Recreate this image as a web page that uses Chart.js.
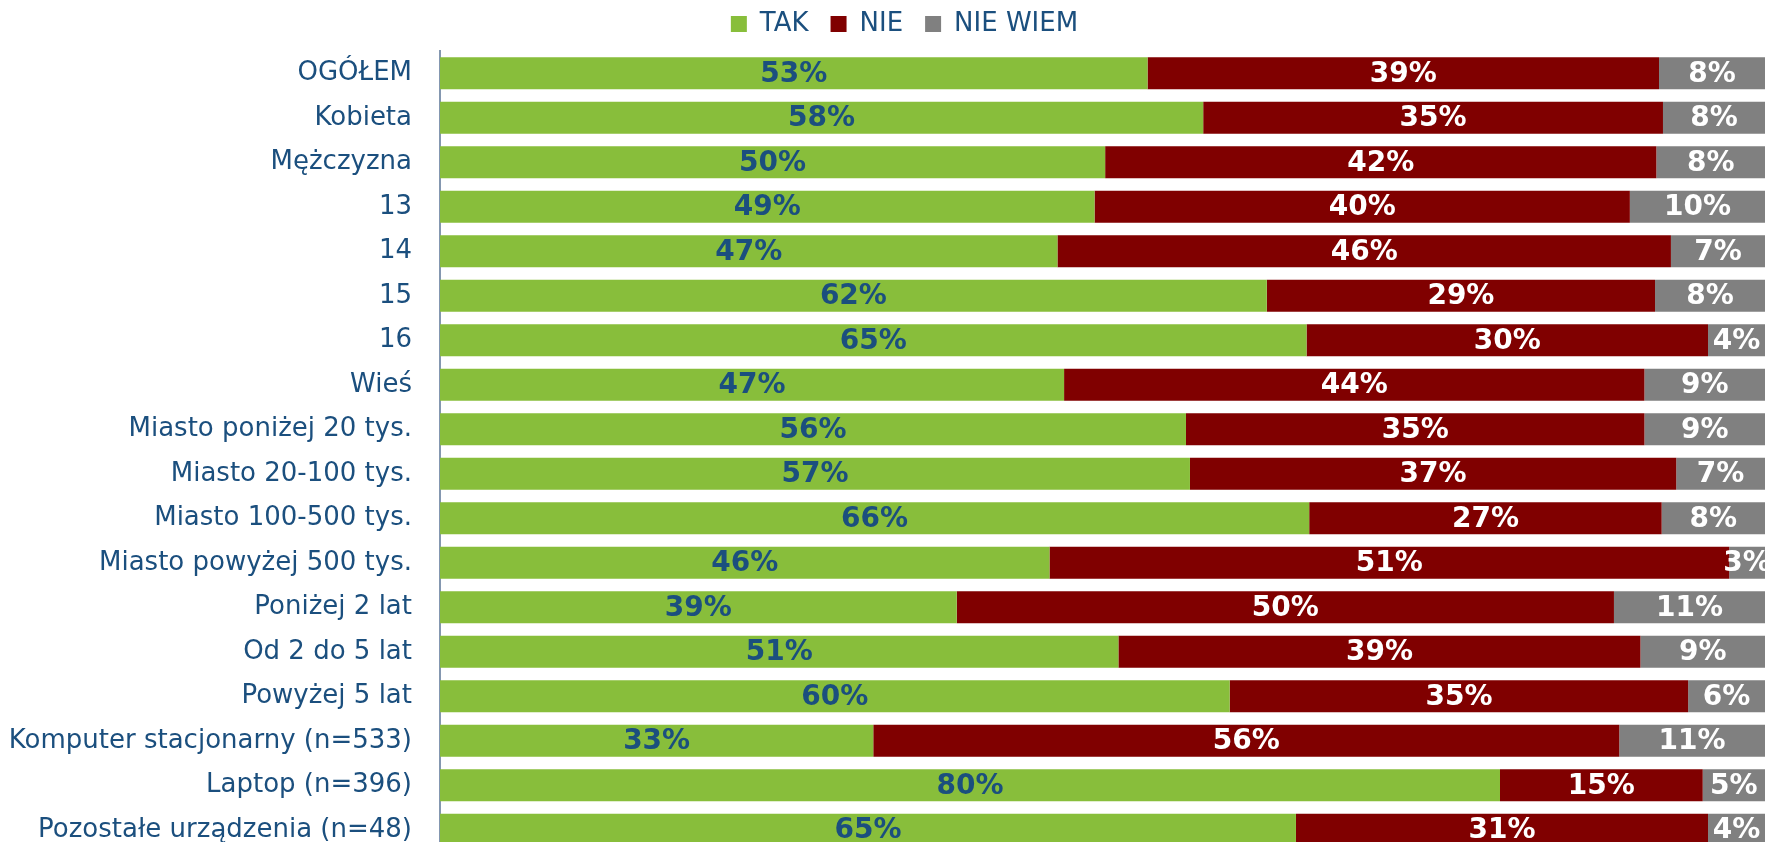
<!DOCTYPE html>
<html>
<head>
<meta charset="utf-8">
<script src="https://cdn.jsdelivr.net/npm/chart.js@4"></script>
<style>
  html, body { margin: 0; padding: 0; background: #fff; overflow: hidden; }
  canvas { display: block; }
</style>
</head>
<body>
<canvas id="chart" width="1768" height="852"></canvas>
<script>
// Categories (rows of the chart)
var categories = [
  "OGÓŁEM", "Kobieta", "Mężczyzna", "13", "14", "15", "16", "Wieś",
  "Miasto poniżej 20 tys.", "Miasto 20-100 tys.", "Miasto 100-500 tys.",
  "Miasto powyżej 500 tys.", "Poniżej 2 lat", "Od 2 do 5 lat", "Powyżej 5 lat",
  "Komputer stacjonarny (n=533)", "Laptop (n=396)", "Pozostałe urządzenia (n=48)"
];

// Series values in percent
var tak    = [53.4, 57.6, 50.2, 49.4, 46.6, 62.4, 65.4, 47.1, 56.3, 56.6, 65.6, 46.0, 39.0, 51.2, 59.6, 32.7, 80.0, 64.6];
var nie    = [38.6, 34.7, 41.6, 40.4, 46.3, 29.3, 30.3, 43.8, 34.6, 36.7, 26.6, 51.3, 49.6, 39.4, 34.6, 56.3, 15.3, 31.1];
var nieWiem = [8.0, 7.7, 8.2, 10.2, 7.1, 8.3, 4.3, 9.1, 9.1, 6.7, 7.8, 2.7, 11.4, 9.4, 5.8, 11.0, 4.7, 4.3];

var seriesNames = ["TAK", "NIE", "NIE WIEM"];
var seriesColors = ["#88BE3B", "#800000", "#808080"];
var labelColors = ["#1B4F7E", "#FFFFFF", "#FFFFFF"];

var textBlue = "#1B4F7E";
var fontName = "'DejaVu Sans', sans-serif";

// Draw the percentage in the middle of every segment
var valueLabels = {
  id: "valueLabels",
  afterDatasetsDraw: function(chart) {
    var ctx = chart.ctx;
    ctx.save();
    ctx.font = "bold 28px " + fontName;
    ctx.textAlign = "center";
    ctx.textBaseline = "middle";
    chart.data.datasets.forEach(function(ds, di) {
      var meta = chart.getDatasetMeta(di);
      ctx.fillStyle = labelColors[di];
      meta.data.forEach(function(bar, i) {
        var x = (bar.x + bar.base) / 2;
        ctx.fillText(Math.round(ds.data[i]) + "%", x, bar.y + 1);
      });
    });
    ctx.restore();
  }
};

// Legend: fixed height, moved a bit up and to the right like in the original
var legendPlace = {
  id: "legendPlace",
  beforeInit: function(chart) {
    var fit = chart.legend.fit;
    chart.legend.fit = function() {
      fit.bind(chart.legend)();
      this.height = 51;
    };
  },
  afterLayout: function(chart) {
    chart.legend.left += 22;
    chart.legend.right += 22;
    chart.legend.top -= 11;
  }
};

var datasets = [tak, nie, nieWiem].map(function(values, i) {
  return {
    label: seriesNames[i],
    data: values,
    backgroundColor: seriesColors[i],
    borderWidth: 0,
    categoryPercentage: 1.0,
    barPercentage: 0.72
  };
});

new Chart(document.getElementById("chart"), {
  type: "bar",
  data: { labels: categories, datasets: datasets },
  plugins: [valueLabels, legendPlace],
  options: {
    responsive: false,
    indexAxis: "y",
    animation: false,
    layout: { padding: { left: 0, right: 3, top: 0, bottom: 0 } },
    plugins: {
      tooltip: { enabled: false },
      legend: {
        position: "top",
        labels: {
          color: textBlue,
          font: { family: fontName, size: 26 },
          boxWidth: 16,
          boxHeight: 16,
          padding: 22
        }
      }
    },
    scales: {
      x: {
        stacked: true,
        min: 0,
        max: 100,
        display: false
      },
      y: {
        stacked: true,
        grid: { display: false },
        border: { display: true, color: "#8497B0", width: 2 },
        ticks: {
          color: textBlue,
          font: { family: fontName, size: 26 },
          padding: 20
        },
        afterFit: function(scale) {
          scale.width = 440;
          scale.paddingTop = 0;
          scale.paddingBottom = 0;
        }
      }
    }
  }
});
</script>
</body>
</html>
